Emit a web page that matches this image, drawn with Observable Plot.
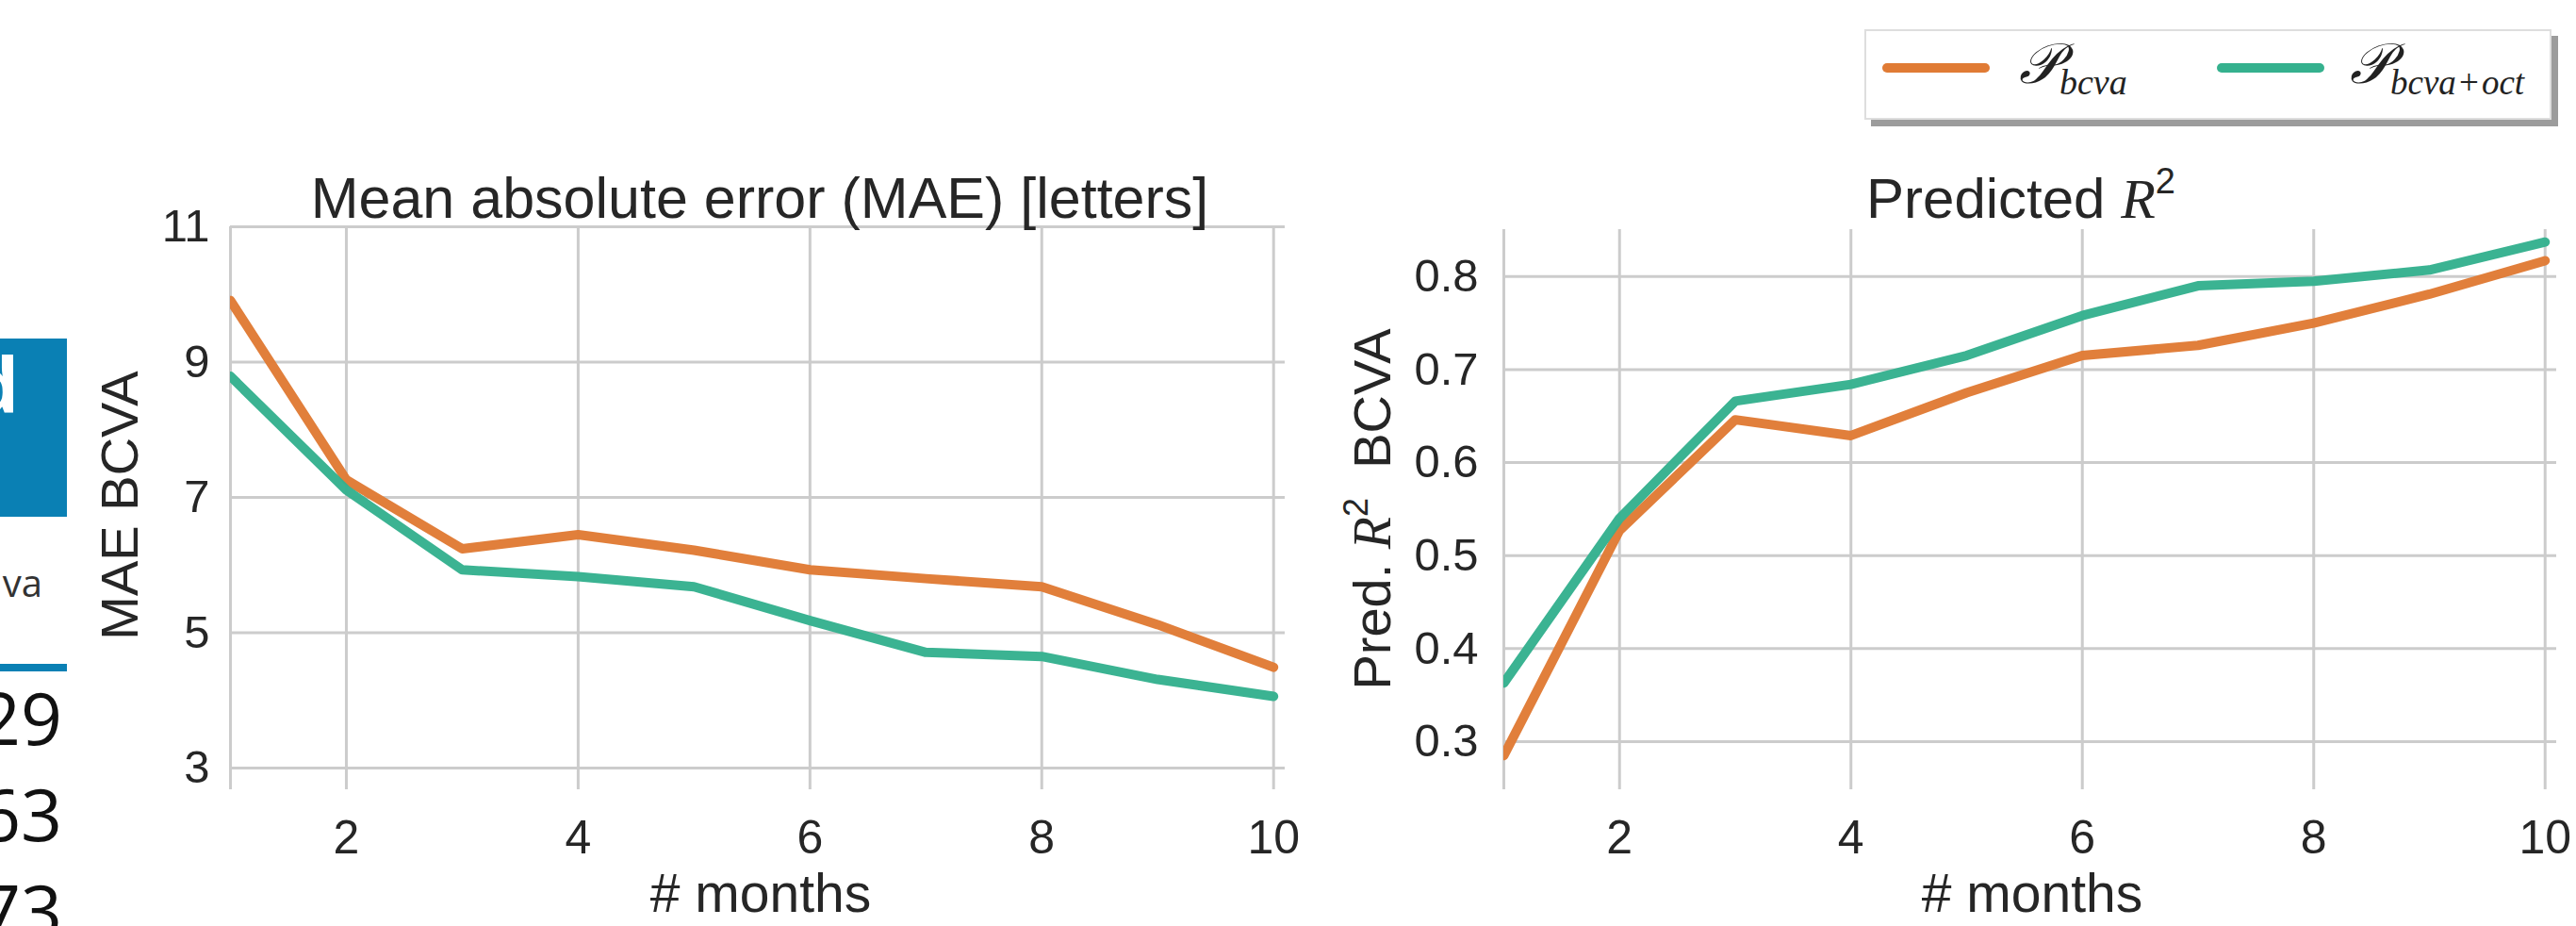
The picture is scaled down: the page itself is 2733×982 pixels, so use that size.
<!DOCTYPE html>
<html><head><meta charset="utf-8">
<script src="https://cdn.jsdelivr.net/npm/d3@7"></script>
<script src="https://cdn.jsdelivr.net/npm/@observablehq/plot@0.6"></script>
<style>
html,body{margin:0;padding:0;background:#fff;}
#page{position:relative;width:2733px;height:982px;overflow:hidden;font-family:"Liberation Sans",Arial,sans-serif;color:#262626;}
#page > *{position:absolute;}
</style></head><body><div id="page"></div>
<script>
// ---- data ----
const months = [1,2,3,4,5,6,7,8,9,10];
const maeBcva    = [9.91,7.26,6.24,6.45,6.22,5.93,5.80,5.68,5.12,4.49];
const maeBcvaOct = [8.79,7.11,5.93,5.83,5.68,5.18,4.71,4.65,4.31,4.06];
const r2Bcva     = [0.285,0.527,0.646,0.629,0.675,0.715,0.726,0.750,0.781,0.817];
const r2BcvaOct  = [0.363,0.540,0.666,0.684,0.715,0.758,0.790,0.795,0.807,0.837];
const maeTicks = [3,5,7,9,11];
const r2Ticks = [0.3,0.4,0.5,0.6,0.7,0.8];
const monthTicks = [2,4,6,8,10];
const seriesNames = ["bcva","bcva+oct"];
const seriesColors = ["#e07b35","#35b18e"];

const toRows = (a, b) => [
  ...months.map((m,i)=>({month:m, value:a[i], series:seriesNames[0]})),
  ...months.map((m,i)=>({month:m, value:b[i], series:seriesNames[1]}))
];

const page = document.getElementById("page");
const GRID = "#cccccc";
const FONT = "Liberation Sans, Arial, sans-serif";

function panel({rows, yDomain, yTicks, width, marginLeft, marginRight, marginTop, tickPadY, yFormat}) {
  return Plot.plot({
    width, height: 982, marginTop, marginBottom: 145, marginLeft, marginRight,
    style: {fontFamily: FONT, color: "#262626", background: "transparent", overflow: "visible"},
    x: {domain: [1, 10.1]},
    y: {domain: yDomain},
    color: {domain: seriesNames, range: seriesColors},
    marks: [
      Plot.gridY(yTicks, {stroke: GRID, strokeOpacity: 1, strokeWidth: 3}),
      Plot.gridX(monthTicks, {stroke: GRID, strokeOpacity: 1, strokeWidth: 3}),
      Plot.ruleX([1], {stroke: GRID, strokeWidth: 3}),
      Plot.axisY(yTicks, {tickSize: 0, tickPadding: tickPadY, fontSize: 49, tickFormat: yFormat, label: null}),
      Plot.axisX(monthTicks, {tickSize: 0, tickPadding: 32, fontSize: 50, tickFormat: d => String(d), label: null}),
      Plot.line(rows, {x: "month", y: "value", z: "series", stroke: "series", strokeWidth: 10,
        strokeLinecap: "round", strokeLinejoin: "round", strokeOpacity: 0.97, clip: true})
    ]
  });
}

const left = panel({rows: toRows(maeBcva, maeBcvaOct), yDomain: [2.68, 11], yTicks: maeTicks,
  width: 1420, marginLeft: 244, marginRight: 57, marginTop: 240, tickPadY: 22, yFormat: d => String(d)});
left.style.left = "0px"; left.style.top = "0px";
page.appendChild(left);

const right = panel({rows: toRows(r2Bcva, r2BcvaOct), yDomain: [0.2483, 0.8504], yTicks: r2Ticks,
  width: 1353, marginLeft: 215, marginRight: 21, marginTop: 243, tickPadY: 27, yFormat: d3.format(".1f")});
right.style.left = "1380px"; right.style.top = "0px";
page.appendChild(right);

// ---- legend box ----
const box = document.createElement("div");
Object.assign(box.style, {left:"1978px", top:"31px", width:"729px", height:"96px", boxSizing:"border-box",
  border:"2px solid #dedede", background:"#fff", boxShadow:"7px 7px 0 #9c9c9c"});
page.appendChild(box);
[[1997, seriesColors[0]], [2352, seriesColors[1]]].forEach(([x,c]) => {
  const l = document.createElement("div");
  Object.assign(l.style, {left: x+"px", top:"67px", width:"114px", height:"10px", background:c, borderRadius:"5px"});
  page.appendChild(l);
});

// ---- text overlay ----
const NS = "http://www.w3.org/2000/svg";
const ov = document.createElementNS(NS, "svg");
ov.setAttribute("width", 2733); ov.setAttribute("height", 982);
ov.style.left = "0px"; ov.style.top = "0px"; ov.style.pointerEvents = "none";
ov.innerHTML = `
<g font-family="${FONT}" fill="#262626">
  <text x="806" y="231" font-size="61" text-anchor="middle">Mean absolute error (MAE) [letters]</text>
  <text x="2144" y="231" font-size="60" text-anchor="middle">Predicted <tspan font-family="Liberation Serif, DejaVu Serif, serif" font-style="italic">R</tspan><tspan font-size="38" dy="-26">2</tspan></text>
  <text x="807" y="967" font-size="57" text-anchor="middle"># months</text>
  <text x="2156" y="967" font-size="57" text-anchor="middle"># months</text>
  <text transform="translate(146,536) rotate(-90)" font-size="56" text-anchor="middle">MAE BCVA</text>
  <text transform="translate(1475,540) rotate(-90)" font-size="56" text-anchor="middle" xml:space="preserve">Pred. <tspan font-family="Liberation Serif, DejaVu Serif, serif" font-style="italic">R</tspan><tspan font-size="36" dy="-24">2</tspan><tspan dy="24">  BCVA</tspan></text>
  <g font-family="Liberation Serif, DejaVu Serif, serif" font-style="italic" fill="#222">
    <text x="2142" y="88" font-size="60">𝒫<tspan font-size="38" dy="12">bcva</tspan></text>
    <text x="2493" y="88" font-size="60" xml:space="preserve">𝒫<tspan font-size="37" dy="12">bcva</tspan><tspan font-size="37" font-style="normal">&#8202;+&#8202;</tspan><tspan font-size="37">oct</tspan></text>
  </g>
</g>
<g font-family="Open Sans, Noto Sans, sans-serif">
  <rect x="0" y="359" width="71" height="189" fill="#0a80b4"/>
  <text x="20" y="437" font-size="80" font-weight="bold" fill="#fff" text-anchor="end">d</text>
  <text x="45" y="633" font-size="40" fill="#333" text-anchor="end">va</text>
  <rect x="0" y="704" width="71" height="8" fill="#0a80b4"/>
  <text x="66" y="790" font-size="77" fill="#111" text-anchor="end">29</text>
  <text x="66" y="892" font-size="77" fill="#111" text-anchor="end">63</text>
  <text x="66" y="994" font-size="77" fill="#111" text-anchor="end">73</text>
</g>`;
page.appendChild(ov);
</script>
</body></html>
